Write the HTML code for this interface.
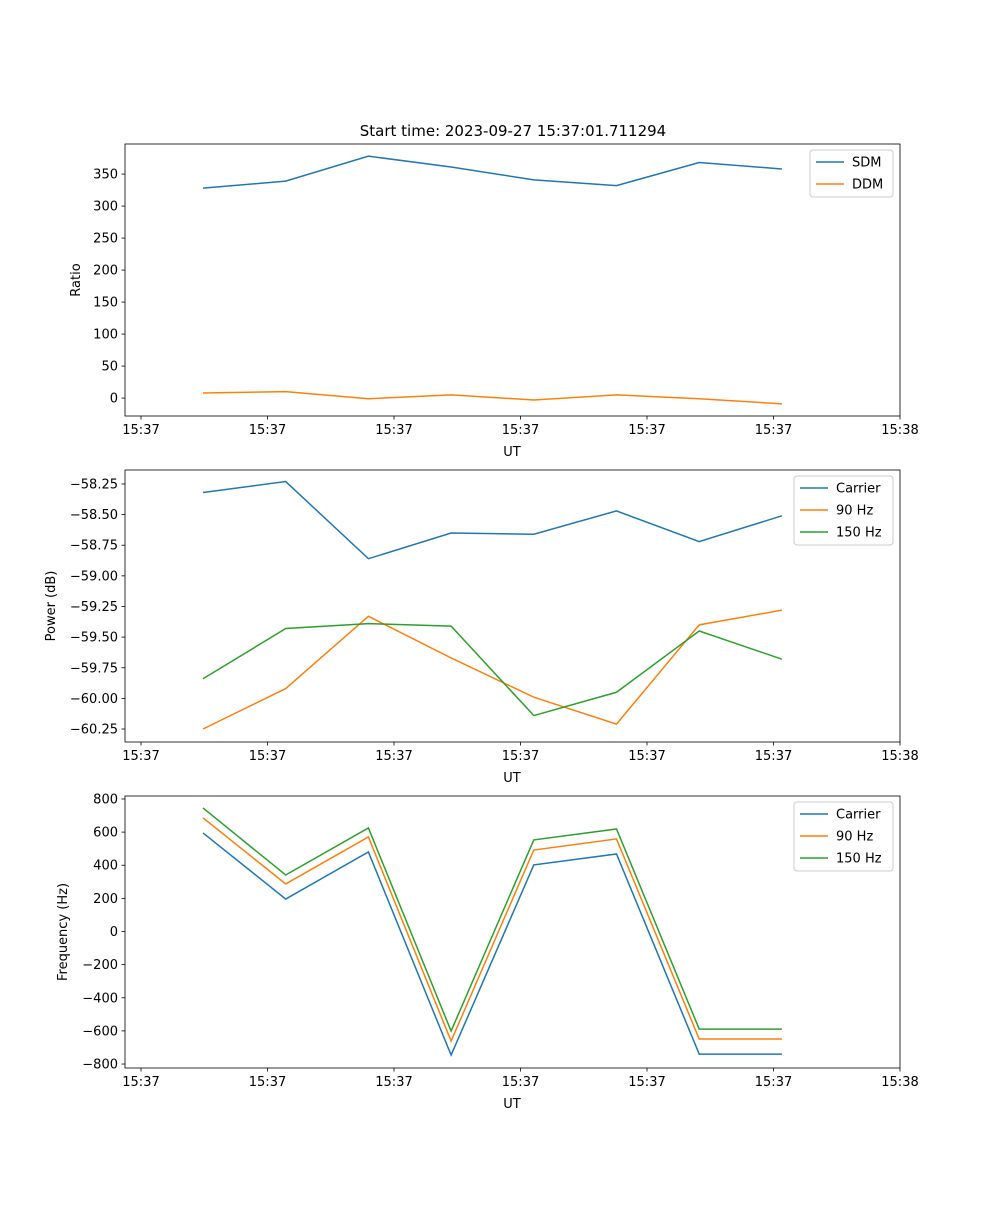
<!DOCTYPE html>
<html><head><meta charset="utf-8"><style>
body{margin:0;background:#fff}
svg text{font-family:"DejaVu Sans","Liberation Sans",sans-serif;font-size:13px;fill:#000}
</style></head><body>
<svg id="fig" width="1000" height="1200" xmlns="http://www.w3.org/2000/svg">
<rect width="1000" height="1200" fill="#fff"/>
<text x="513" y="136" text-anchor="middle" font-size="15" style="font-size:15px">Start time: 2023-09-27 15:37:01.711294</text>
</svg>
<script>
const xTickLabels=["15:37","15:37","15:37","15:37","15:37","15:37","15:38"];
const sdm=[328,339,378,361,341,332,368,358];
const ddm=[8,10,-1,5,-3,5,-1,-9];
const pCarrier=[-58.32,-58.23,-58.86,-58.65,-58.66,-58.47,-58.72,-58.51];
const p90=[-60.25,-59.92,-59.33,-59.67,-59.99,-60.21,-59.40,-59.28];
const p150=[-59.84,-59.43,-59.39,-59.41,-60.14,-59.95,-59.45,-59.68];
const fCarrier=[595,196,480,-746,402,468,-740,-740];
const f90=[686,287,571,-661,492,559,-649,-649];
const f150=[746,341,625,-601,553,619,-589,-589];
const ratioTicks=[0,50,100,150,200,250,300,350];
const powerTicks=[-60.25,-60.00,-59.75,-59.50,-59.25,-59.00,-58.75,-58.50,-58.25];
const freqTicks=[-800,-600,-400,-200,0,200,400,600,800];

const NS="http://www.w3.org/2000/svg";
const svg=document.getElementById('fig');
function mk(tag,attrs,parent){const e=document.createElementNS(NS,tag);for(const k in attrs)e.setAttribute(k,attrs[k]);(parent||svg).appendChild(e);return e;}
const X0=125,X1=900;
function xScale(i){return 203+i*82.7;}
const xTickPos=[141,267.5,394,520.5,647,773.5,900];

function panel(name,top,ymin,ymax,ticks,fmt,ylabel,series,legX,legW){
  const bot=top+272;
  const ys=v=>bot-(v-ymin)/(ymax-ymin)*272;
  const g=mk('g',{});
  
  
  series.forEach(s=>{
    const p=mk('polyline',{points:s.v.map((v,i)=>xScale(i)+','+ys(v)).join(' '),fill:'none',stroke:s.c,'stroke-width':1.5},g);
    
    
  });
  const fr=mk('rect',{x:X0,y:top,width:X1-X0,height:272,fill:'none',stroke:'#000','stroke-width':0.8},g);
  
  
  xTickPos.forEach((x,i)=>{
    mk('line',{x1:x,x2:x,y1:bot,y2:bot+3.5,stroke:'#000','stroke-width':0.8},g);
    const t=mk('text',{x:x,y:bot+18,'text-anchor':'middle'},g);t.textContent=xTickLabels[i];
    
    
  });
  const xl=mk('text',{x:512,y:bot+40,'text-anchor':'middle'},g);xl.textContent='UT';
  
  
  ticks.forEach(v=>{
    const y=ys(v);
    mk('line',{x1:X0-3.5,x2:X0,y1:y,y2:y,stroke:'#000','stroke-width':0.8},g);
    const t=mk('text',{x:X0-7,y:y+4.5,'text-anchor':'end'},g);t.textContent=fmt(v);
    
    
  });
  const cy=(top+bot)/2;
  const lbl=mk('text',{x:0,y:0,'text-anchor':'middle',transform:`translate(${ylabel.x},${cy}) rotate(-90)`},g);lbl.textContent=ylabel.t;
  
  
  const lh=22*series.length+3;
  const lg=mk('g',{},g);
  
  
  mk('rect',{x:legX,y:top+6,width:legW,height:lh,rx:3,fill:'#fff','fill-opacity':0.8,stroke:'#ccc'},lg);
  series.forEach((s,i)=>{
    const y=top+18+i*22;
    mk('line',{x1:legX+6,x2:legX+34,y1:y,y2:y,stroke:s.c,'stroke-width':1.5},lg);
    const t=mk('text',{x:legX+42,y:y+4.5},lg);t.textContent=s.label;
    
    
  });
}
const B='#1f77b4',O='#ff7f0e',G='#2ca02c';
panel('ratio',144,-28,397,ratioTicks,v=>String(v),{x:80,t:'Ratio'},
  [{id:'sdm',v:sdm,c:B,label:'SDM'},{id:'ddm',v:ddm,c:O,label:'DDM'}],810,83);
panel('power',470,-60.356,-58.136,powerTicks,v=>(v<0?'\u2212':'')+Math.abs(v).toFixed(2),{x:55,t:'Power (dB)'},
  [{id:'carrier',v:pCarrier,c:B,label:'Carrier'},{id:'90hz',v:p90,c:O,label:'90 Hz'},{id:'150hz',v:p150,c:G,label:'150 Hz'}],794,99);
panel('frequency',796,-824,818,freqTicks,v=>(v<0?'\u2212':'')+Math.abs(v),{x:67,t:'Frequency (Hz)'},
  [{id:'carrier',v:fCarrier,c:B,label:'Carrier'},{id:'90hz',v:f90,c:O,label:'90 Hz'},{id:'150hz',v:f150,c:G,label:'150 Hz'}],794,99);
</script>
</body></html>
